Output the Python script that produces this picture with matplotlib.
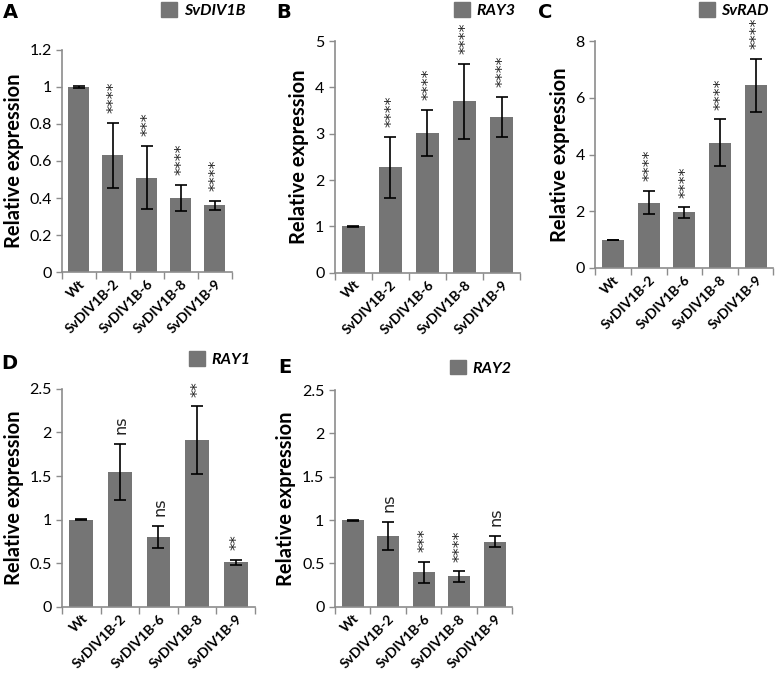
import numpy as np
import matplotlib
matplotlib.use("Agg")
import matplotlib.pyplot as plt
from matplotlib.patches import Patch

plt.rcParams["font.family"] = ["Lato", "DejaVu Sans"]

lines = ["Wt", "SvDIV1B-2", "SvDIV1B-6", "SvDIV1B-8", "SvDIV1B-9"]

# per-gene means, error (+/-) and significance marks
div1b_mean = [1.0, 0.63, 0.51, 0.40, 0.36]
div1b_err = [0.003, 0.175, 0.17, 0.07, 0.025]
div1b_sig = ["", "****", "***", "****", "****"]

ray3_mean = [1.0, 2.28, 3.02, 3.70, 3.36]
ray3_err = [0.01, 0.66, 0.49, 0.81, 0.44]
ray3_sig = ["", "****", "****", "****", "****"]

rad_mean = [0.99, 2.30, 1.96, 4.41, 6.44]
rad_err = [0.01, 0.41, 0.18, 0.83, 0.93]
rad_sig = ["", "****", "****", "****", "****"]

ray1_mean = [1.0, 1.55, 0.80, 1.91, 0.51]
ray1_err = [0.005, 0.32, 0.13, 0.39, 0.025]
ray1_sig = ["", "ns", "ns", "**", "**"]

ray2_mean = [1.0, 0.82, 0.40, 0.35, 0.75]
ray2_err = [0.005, 0.16, 0.12, 0.06, 0.065]
ray2_sig = ["", "ns", "***", "****", "ns"]

BAR = "#757575"
AXC = "#8c8c8c"

fig = plt.figure(figsize=(7.75, 6.75), dpi=100)


def panel(rect, mean, err, sig, gene, ymax, step, letter, letter_xy, leg_xy):
    ax = fig.add_axes(rect)
    x = np.arange(len(lines))
    ax.bar(x, mean, width=0.62, color=BAR, zorder=2)
    ax.errorbar(x, mean, yerr=err, fmt="none", ecolor="black",
                elinewidth=1.2, capsize=4, capthick=1.2, zorder=3)
    for xi, m, e, s in zip(x, mean, err, sig):
        if s:
            ax.annotate(s, (xi, m + e), xytext=(1, 7), textcoords="offset points",
                        rotation=90, ha="center", va="bottom", fontsize=11.5,
                        fontfamily="DejaVu Sans", color="#222222")
    ax.set_xlim(-0.5, len(lines) - 0.5)
    ax.set_ylim(0, ymax)
    ticks = np.arange(0, ymax + step / 2, step)
    ax.set_yticks(ticks)
    ax.set_yticklabels([f"{t:g}" for t in ticks], fontsize=11.5)
    ax.set_xticks(x)
    ax.set_xticklabels(lines, rotation=45, ha="right", rotation_mode="anchor",
                       fontsize=10, fontweight="bold")
    ax.tick_params(axis="x", length=0, pad=4)
    ax.tick_params(axis="y", length=4, color=AXC, width=1)
    # category boundary ticks below the axis, Excel style
    ax.set_xticks(np.arange(-0.5, len(lines)), minor=True)
    ax.tick_params(axis="x", which="minor", length=5, color=AXC, width=1)
    for sp in ("top", "right"):
        ax.spines[sp].set_visible(False)
    for sp in ("left", "bottom"):
        ax.spines[sp].set_color(AXC)
        ax.spines[sp].set_linewidth(1.2)
    ax.set_ylabel("Relative expression", fontsize=14.5, fontweight="bold")
    fig.text(letter_xy[0], letter_xy[1], letter, fontsize=14, fontweight="bold",
             va="center", ha="left", fontfamily="DejaVu Sans")
    ax.legend([Patch(color=BAR)], [gene], loc="center left",
              bbox_to_anchor=leg_xy, bbox_transform=fig.transFigure,
              frameon=False, handlelength=1.0, handleheight=1.0,
              handletextpad=0.4, borderpad=0, borderaxespad=0,
              prop={"weight": "bold", "style": "italic", "size": 11.5})
    return ax


panel([0.080, 0.597, 0.219, 0.329], div1b_mean, div1b_err, div1b_sig,
      "SvDIV1B", 1.2, 0.2, "A", (0.004, 0.982), (0.208, 0.985))
panel([0.432, 0.596, 0.239, 0.343], ray3_mean, ray3_err, ray3_sig,
      "RAY3", 5, 1, "B", (0.357, 0.982), (0.586, 0.985))
panel([0.768, 0.603, 0.230, 0.336], rad_mean, rad_err, rad_sig,
      "SvRAD", 8, 2, "C", (0.694, 0.982), (0.902, 0.985))
panel([0.080, 0.101, 0.249, 0.323], ray1_mean, ray1_err, ray1_sig,
      "RAY1", 2.5, 0.5, "D", (0.001, 0.462), (0.244, 0.468))
panel([0.432, 0.101, 0.229, 0.321], ray2_mean, ray2_err, ray2_sig,
      "RAY2", 2.5, 0.5, "E", (0.359, 0.456), (0.581, 0.455))

fig.savefig("out.png", dpi=100)
